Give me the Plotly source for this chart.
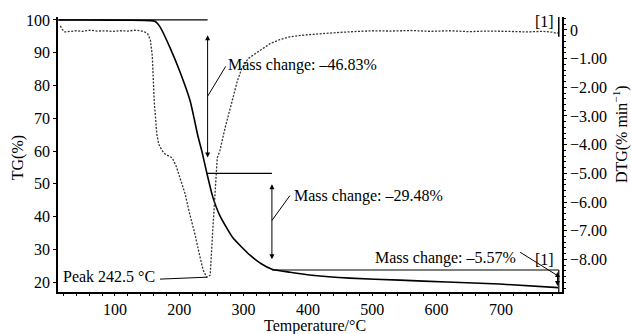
import plotly.graph_objects as go

# ---------------- data ----------------
temp_tg = [12, 60, 120, 154, 162, 170, 185, 201, 217, 229, 235, 243, 252, 263, 283, 310, 328, 344, 372, 406, 465, 543, 616, 698, 789]
tg = [100, 100, 99.9, 99.8, 99.6, 97.9, 91.8, 84.2, 75.2, 64.5, 60.0, 53.1, 46.0, 40.3, 33.6, 28.2, 25.5, 23.9, 23.0, 22.1, 21.2, 20.6, 20.0, 19.4, 18.3]

temp_dtg = [15, 18, 22, 30, 40, 50, 61, 72, 84, 96, 108, 120, 131, 140, 146, 151, 155, 158, 161, 165,
            168, 173, 178, 184, 189, 195, 202, 209, 216, 224, 231, 237, 242.5, 248, 252, 256, 259, 263, 271, 282,
            290, 297, 307, 318, 330, 341, 356, 372, 393, 414, 440, 470, 500, 530, 560, 590, 620, 650, 680, 710,
            740, 765, 780, 786, 789]
dtg = [0.14, 0.02, -0.07, -0.06, -0.03, -0.05, -0.01, -0.04, -0.03, -0.05, -0.03, -0.04, -0.01, -0.03, -0.07, -0.14, -0.35, -0.9, -2.49, -3.63,
       -3.98, -4.2, -4.33, -4.4, -4.46, -4.74, -5.2, -5.71, -6.4, -7.09, -7.8, -8.37, -8.62, -8.55, -6.99, -5.3, -4.46, -4.22, -3.43, -2.49,
       -1.80, -1.35, -1.00, -0.83, -0.65, -0.48, -0.34, -0.24, -0.18, -0.14, -0.1, -0.06, -0.03, -0.04, -0.02, -0.05, -0.03, -0.06, -0.04, -0.05,
       -0.07, -0.05, -0.08, -0.12, -0.1]

x_ticks = [100, 200, 300, 400, 500, 600, 700]
tg_ticks = [20, 30, 40, 50, 60, 70, 80, 90, 100]
dtg_ticks = [0, -1, -2, -3, -4, -5, -6, -7, -8]
dtg_ticktext = ["0", "\u22121.00", "\u22122.00", "\u22123.00", "\u22124.00", "\u22125.00", "\u22126.00", "\u22127.00", "\u22128.00"]

mass_changes = [46.83, 29.48, 5.57]
step_temps = [244, 344, 789]
peak_temp = 242.5
peak_dtg = -8.62

# levels derived from mass changes
lvl0 = 100.0
lvl1 = lvl0 - mass_changes[0]
lvl2 = lvl1 - mass_changes[1]
lvl3 = lvl2 - mass_changes[2]

FONT = "Liberation Serif"
fig = go.Figure()

fig.add_trace(go.Scatter(x=temp_tg, y=tg, mode="lines", yaxis="y",
                         line=dict(color="black", width=1.6, shape="spline", smoothing=0.5),
                         showlegend=False, hoverinfo="skip"))
fig.add_trace(go.Scatter(x=temp_dtg, y=dtg, mode="lines", yaxis="y2",
                         line=dict(color="#333333", width=1.3, dash="2px,1.5px"),
                         showlegend=False, hoverinfo="skip"))

shapes = []
def seg(x0, y0, x1, y1, w=1.2, yref="y"):
    shapes.append(dict(type="line", xref="x", yref=yref, x0=x0, y0=y0, x1=x1, y1=y1,
                       line=dict(color="black", width=w)))

# horizontal step lines
seg(12, lvl0, step_temps[0], lvl0, 1.3)
seg(step_temps[0] - 1, lvl1, step_temps[1], lvl1)
seg(step_temps[1], lvl2, step_temps[2] + 1, lvl2)
seg(step_temps[2] + 1, lvl2, step_temps[2] + 1, 17.0)
# leader lines
seg(step_temps[0], 76.7, 272, 85.8, 1.0)
seg(step_temps[1], 38.8, 372, 46.4, 1.0)
seg(730, 29.1, 787, 22.1, 1.0)
# peak leader
seg(170, 20.9, peak_temp + 1, 21.5, 1.0)
# small right-top bracket
seg(790, 0.45, 790, -0.24, 1.5, yref="y2")

annotations = []
def dbl_arrow(x, y_top, y_bot):
    annotations.append(dict(x=x, y=y_bot, ax=x, ay=y_top, xref="x", yref="y", axref="x", ayref="y",
                            text="", showarrow=True, arrowside="end+start", arrowhead=2, startarrowhead=2,
                            arrowsize=1, startarrowsize=1, arrowwidth=1, arrowcolor="black", borderpad=0))

dbl_arrow(step_temps[0], 95.5, 58.0)
dbl_arrow(step_temps[1], 50.0, 27.0)
dbl_arrow(step_temps[2] - 1, 23.2, 18.8)

def text(x, y, s, xanchor="left", xref="x", yref="y", size=16, angle=0):
    annotations.append(dict(x=x, y=y, xref=xref, yref=yref, text=s, showarrow=False,
                            xanchor=xanchor, yanchor="middle", textangle=angle,
                            font=dict(family=FONT, size=size, color="black")))

text(272.5, 86.4, "Mass change: \u2013%.2f%%" % mass_changes[0])
text(375, 46.4, "Mass change: \u2013%.2f%%" % mass_changes[1])
text(727, 27.3, "Mass change: \u2013%.2f%%" % mass_changes[2], xanchor="right")
text(16, 21.6, "Peak %.1f \u00b0C" % peak_temp)
text(785, 27.0, "[1]", xanchor="right")
text(785, 99.4, "[1]", xanchor="right")

# axis titles
text(-0.079, 0.487, "TG(%)", xanchor="center", xref="paper", yref="paper", angle=-90)
text(1.115, 0.574, "DTG(% min<sup>\u22121</sup>)", xanchor="center", xref="paper", yref="paper", angle=-90)
text(0.51, -0.123, "Temperature/\u00b0C", xanchor="center", xref="paper", yref="paper")

tickfont = dict(family=FONT, size=16, color="black")
fig.update_layout(
    width=631, height=334,
    margin=dict(l=58, r=69, t=15, b=42),
    paper_bgcolor="white", plot_bgcolor="white",
    shapes=shapes, annotations=annotations,
    xaxis=dict(range=[11.4, 795], tickvals=x_ticks, showgrid=False, zeroline=False,
               showline=True, linecolor="black", linewidth=1.5, ticks="outside", ticklen=2,
               tickcolor="black", tickfont=tickfont,
               minor=dict(ticks="outside", ticklen=2, dtick=20, tickcolor="black")),
    yaxis=dict(range=[16.97, 100.9], tickvals=tg_ticks, showgrid=False, zeroline=False,
               showline=True, linecolor="black", linewidth=1.5, ticks="outside", ticklen=3,
               tickcolor="black", tickfont=tickfont),
    yaxis2=dict(range=[-9.135, 0.45], tickvals=dtg_ticks, ticktext=dtg_ticktext, overlaying="y",
                side="right", showgrid=False, zeroline=False, showline=True, linecolor="black",
                linewidth=1.5, ticks="outside", ticklen=3, tickcolor="black", tickfont=tickfont,
                minor=dict(ticks="outside", ticklen=2, dtick=0.2, tickcolor="black")),
)

fig.write_html("out.html", config={"displayModeBar": False},
               post_script="document.body.style.margin='0px';document.body.style.overflow='hidden';")
